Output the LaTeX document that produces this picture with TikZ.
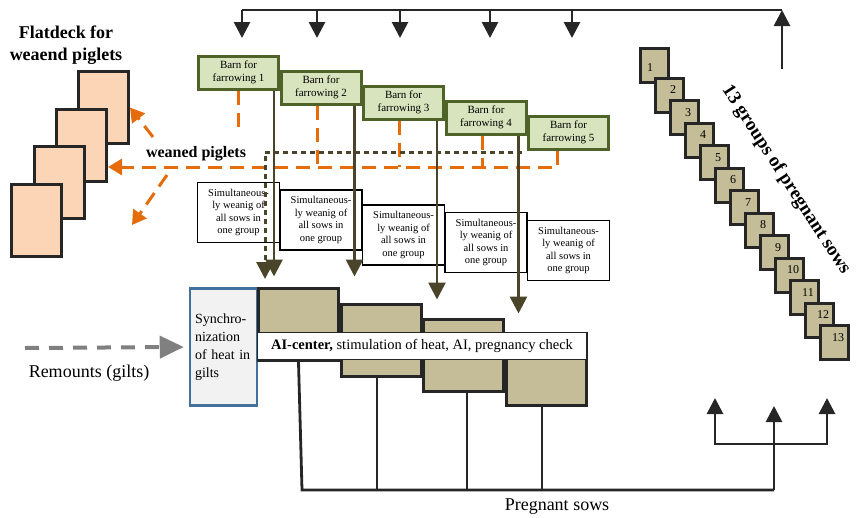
\documentclass[tikz,border=0pt]{standalone}
\usepackage{fontspec}
\setmainfont{Liberation Serif}
\usetikzlibrary{arrows.meta}
\definecolor{barngreen}{HTML}{D7E4BD}
\definecolor{barnedge}{HTML}{4F6228}
\definecolor{sowtan}{HTML}{C4BD97}
\definecolor{oliveline}{HTML}{4A452A}
\definecolor{piglet}{HTML}{FBD5B5}
\definecolor{weanorange}{HTML}{E46C0A}
\definecolor{syncblue}{HTML}{41719C}
\definecolor{syncgray}{HTML}{F2F2F2}
\definecolor{darkline}{HTML}{262626}

\begin{document}
\begin{tikzpicture}[x=1pt, y=-1pt]

\tikzstyle{barn}=[draw=barnedge, fill=barngreen, line width=3pt, minimum width=80pt, minimum height=33pt, inner sep=0pt, align=center, font=\fontsize{11}{13}\selectfont]
\tikzstyle{weanbox}=[draw=black, fill=white, line width=1.3pt, minimum width=82pt, minimum height=60pt, inner sep=0pt, align=center, font=\fontsize{10.5}{12.5}\selectfont]
\tikzstyle{aibox}=[draw=darkline, fill=sowtan, line width=3pt, minimum width=80pt, minimum height=72pt]
\tikzstyle{flat}=[draw=darkline, fill=piglet, line width=3pt, minimum width=50pt, minimum height=72pt]
\tikzstyle{grp}=[draw=darkline, fill=sowtan, line width=3pt, minimum width=28pt, minimum height=34pt, inner sep=0pt]
\tikzstyle{grpnum}=[font=\fontsize{12}{12}\selectfont, xshift=3.5pt, yshift=5pt]
\tikzstyle{bus}=[draw=darkline, line width=2.8pt]
\tikzstyle{busarrow}=[bus, -{Triangle[length=16pt,width=16pt]}]
\tikzstyle{sowline}=[draw=oliveline, line width=2.8pt, -{Triangle[length=17pt,width=17pt]}]
\tikzstyle{dotline}=[draw=oliveline, line width=3pt, dash pattern=on 5pt off 4pt, -{Triangle[length=17pt,width=17pt]}]
\tikzstyle{pigletline}=[draw=weanorange, line width=3pt, dash pattern=on 14pt off 8pt]
\tikzstyle{pigletarrow}=[pigletline, -{Triangle[length=14pt,width=16pt]}]
\tikzstyle{remount}=[draw=gray, line width=4pt, dash pattern=on 14pt off 10pt, -{Triangle[length=24pt,width=22pt]}]

\useasboundingbox (0,0) rectangle (859,517);

% flatdeck
\node[font=\fontsize{18}{22}\selectfont\bfseries, align=center] (flattitle) at (66,45) {Flatdeck for\\weaend piglets};
\node[flat] (flat4) at (103.5,107.5) {};
\node[flat] (flat3) at (81.5,145) {};
\node[flat] (flat2) at (59,182.5) {};
\node[flat] (flat1) at (36,220) {};

% barns
\node[barn] (barn1) at (238.5,72.5) {Barn for\\farrowing 1};
\node[barn] (barn2) at (321,87.5) {Barn for\\farrowing 2};
\node[barn] (barn3) at (403.5,102.5) {Barn for\\farrowing 3};
\node[barn] (barn4) at (486,117.5) {Barn for\\farrowing 4};
\node[barn] (barn5) at (568.5,132.5) {Barn for\\farrowing 5};

\node[weanbox] (wean1) at (238.5,212.5) {Simultaneous-\\ly weanig of\\all sows in\\one group};
\node[weanbox] (wean2) at (321,220) {Simultaneous-\\ly weanig of\\all sows in\\one group};
\node[weanbox] (wean3) at (403.5,235) {Simultaneous-\\ly weanig of\\all sows in\\one group};
\node[weanbox] (wean4) at (486,242.5) {Simultaneous-\\ly weanig of\\all sows in\\one group};
\node[weanbox] (wean5) at (568.5,250.5) {Simultaneous-\\ly weanig of\\all sows in\\one group};

% AI-center
\node[draw=syncblue, fill=syncgray, line width=2.5pt, minimum width=66pt, minimum height=117pt, text width=57pt, inner xsep=5pt, align=left, font=\fontsize{14}{18}\selectfont] (sync) at (223.5,347) {Synchro-\\nization\\of heat in\\gilts};
\node[aibox] (ai1) at (298.5,324.5) {};
\node[aibox] (ai2) at (381,340) {};
\node[aibox] (ai3) at (463.5,355) {};
\node[aibox] (ai4) at (546,369.5) {};
\node[draw=darkline, fill=white, line width=1pt, minimum width=329pt, minimum height=27pt, font=\fontsize{14.5}{16}\selectfont] (aitext) at (422,346) {\textbf{AI-center,} stimulation of heat, AI, pregnancy check};

% 13 groups
\node[grp, label={[grpnum, xshift=-8pt, yshift=-7.5pt]center:1}] (g1) at (654.5,65.5) {};
\node[grp, label={[grpnum]center:2}] (g2) at (669.5,95) {};
\node[grp, label={[grpnum]center:3}] (g3) at (684.5,117.5) {};
\node[grp, label={[grpnum]center:4}] (g4) at (699.5,140) {};
\node[grp, label={[grpnum]center:5}] (g5) at (714.5,162.5) {};
\node[grp, label={[grpnum]center:6}] (g6) at (729.5,185) {};
\node[grp, label={[grpnum]center:7}] (g7) at (744.5,207.5) {};
\node[grp, label={[grpnum]center:8}] (g8) at (759.5,230) {};
\node[grp, label={[grpnum]center:9}] (g9) at (774.5,252.5) {};
\node[grp, label={[grpnum]center:10}] (g10) at (789.5,275) {};
\node[grp, label={[grpnum]center:11}] (g11) at (804.5,297.5) {};
\node[grp, label={[grpnum]center:12}] (g12) at (819.5,320) {};
\node[grp, label={[grpnum]center:13}] (g13) at (834.5,342.5) {};
\node[rotate=-57, font=\fontsize{19}{19}\selectfont\bfseries] (grptitle) at (786,180) {13 groups of pregnant sows};

% top bus
\coordinate (topl) at (242,10);
\coordinate (topr) at (782,10);
\coordinate (upfoot) at (782,69);
\draw[busarrow] (upfoot) -- (topr);
\draw[bus] (topr) -- (topl);
\draw[busarrow] (topl) -- ++(0,28);
\draw[busarrow] ([xshift=-4pt]barn2.north |- topl) -- ++(0,28);
\draw[busarrow] ([xshift=-3.5pt]barn3.north |- topl) -- ++(0,28);
\draw[busarrow] ([xshift=4pt]barn4.north |- topl) -- ++(0,28);
\draw[busarrow] ([xshift=3.5pt]barn5.north |- topl) -- ++(0,28);

% weaned piglets
\coordinate (pigrow) at (0,167);
\coordinate (pigtail1) at (153,137);
\coordinate (pigtail2) at (167,175);
\coordinate (pigtip2) at (132,225);
\draw[pigletline] (barn1.south) -- ++(0,40);
\draw[pigletarrow] ([xshift=-11pt]barn5.south) |- (flat3.east |- pigrow);
\draw[pigletline] ([xshift=-4pt]barn2.south) -- ([xshift=-4pt]barn2.south |- pigrow);
\draw[pigletline] ([xshift=-4pt]barn3.south) -- ([xshift=-4pt]barn3.south |- pigrow);
\draw[pigletline] ([xshift=-4pt]barn4.south) -- ([xshift=-4pt]barn4.south |- pigrow);
\draw[pigletarrow] (pigtail1) -- (flat4.east);
\draw[pigletarrow] (pigtail2) -- (pigtip2);
\node[font=\fontsize{16}{16}\selectfont\bfseries] (weaned) at (196,154) {weaned piglets};

% sows back to AI-center
\coordinate (dotr) at (522,152);
\coordinate (dotend) at (265,279);
\draw[dotline] (dotr) -| (dotend);
\draw[sowline] ([xshift=-6pt]barn1.south east) -- ++(0,186);
\draw[sowline] ([xshift=-8pt]barn2.south east) -- ++(0,171);
\draw[sowline] ([xshift=-8pt]barn3.south east) -- ++(0,179);
\draw[sowline] ([xshift=-9pt]barn4.south east) -- ++(0,178);

% remounts
\coordinate (remtail) at (25,348);
\draw[remount] (remtail) -- ([xshift=-5pt]sync.west);
\node[font=\fontsize{18}{18}\selectfont] (remlabel) at (89,373) {Remounts (gilts)};

% pregnant sows
\coordinate (botl) at (302,490);
\coordinate (botr) at (774,490);
\coordinate (sowmid) at (774,406);
\coordinate (sowfork) at (774,444);
\coordinate (sowl) at (715,398);
\coordinate (sowr) at (827,398);
\draw[bus] (ai1.south) -- (botl) -- (botr);
\draw[bus] ([xshift=-4pt]ai2.south) -- ([xshift=-4pt]ai2.south |- botl);
\draw[bus] ([xshift=3.5pt]ai3.south) -- ([xshift=3.5pt]ai3.south |- botl);
\draw[bus] ([xshift=-4pt]ai4.south) -- ([xshift=-4pt]ai4.south |- botl);
\draw[busarrow] (botr) -- (sowmid);
\draw[bus, {Triangle[length=16pt,width=16pt]}-{Triangle[length=16pt,width=16pt]}] (sowl) -- (sowl |- sowfork) -- (sowr |- sowfork) -- (sowr);
\node[font=\fontsize{18}{18}\selectfont] (preglabel) at (557,507) {Pregnant sows};

\end{tikzpicture}
\end{document}
